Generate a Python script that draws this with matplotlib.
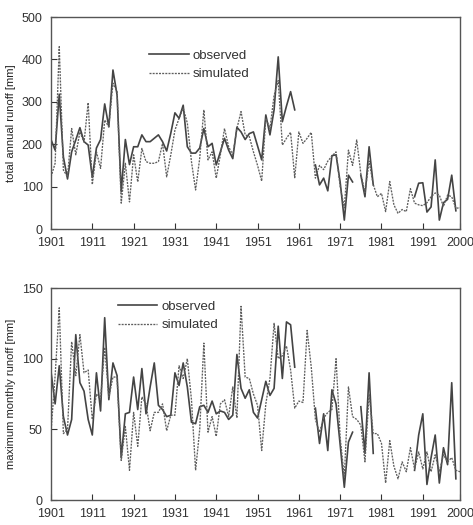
import numpy as np
import matplotlib
matplotlib.use("Agg")
import matplotlib.pyplot as plt

plt.rcParams['font.family'] = ['Liberation Sans', 'DejaVu Sans']

years = list(range(1901, 2001))
nan = np.nan

# total annual runoff [mm]
annual_obs = [211, 186, 318, 170, 118, 182, 210, 239, 206, 198,
              122, 191, 211, 295, 241, 375, 316, 88, 211, 152,
              194, 194, 222, 206, 206, 214, 222, 206, 184, 226,
              274, 261, 292, 194, 179, 179, 191, 237, 194, 202,
              151, 182, 214, 186, 166, 240, 229, 211, 225, 229,
              196, 163, 269, 222, 281, 406, 253, 290, 324, 281,
              nan, nan, nan, nan, 151, 104, 120, 90, 173, 175,
              110, 21, 127, 111, nan, 127, 76, 194, 104, nan,
              nan, nan, nan, nan, nan, nan, nan, nan, 76, 108,
              109, 40, 52, 163, 21, 62, 70, 127, 43, nan]
annual_sim = [123, 155, 430, 139, 123, 237, 175, 229, 205, 298,
              105, 182, 143, 257, 241, 344, 324, 61, 155, 64,
              175, 111, 190, 159, 155, 155, 159, 202, 123, 175,
              233, 261, 285, 250, 159, 92, 167, 281, 163, 182,
              120, 175, 237, 194, 175, 237, 277, 222, 218, 182,
              150, 113, 261, 237, 315, 350, 198, 214, 228, 121,
              229, 202, 214, 228, 120, 150, 140, 160, 172, 182,
              100, 50, 186, 150, 210, 130, 86, 160, 105, 76,
              84, 41, 112, 57, 37, 46, 41, 95, 61, 57,
              55, 62, 76, 85, 80, 53, 80, 76, 49, 50]

# maximum monthly runoff [mm]
monthly_obs = [91, 68, 95, 59, 46, 57, 117, 83, 77, 57,
               46, 90, 63, 129, 71, 97, 88, 30, 61, 62,
               87, 64, 93, 61, 80, 97, 67, 64, 59, 60,
               90, 81, 97, 80, 55, 54, 66, 67, 62, 70,
               61, 63, 62, 57, 60, 103, 79, 72, 78, 62,
               58, 71, 84, 74, 79, 123, 86, 126, 124, 94,
               nan, nan, nan, nan, 65, 40, 61, 35, 78, 68,
               39, 9, 41, 48, nan, 66, 33, 90, 33, nan,
               nan, nan, nan, nan, nan, nan, nan, nan, 21, 46,
               61, 11, 30, 46, 12, 37, 25, 83, 15, nan]
monthly_sim = [48, 88, 136, 47, 50, 112, 88, 117, 90, 92,
               57, 75, 71, 108, 73, 87, 87, 28, 52, 21,
               62, 38, 73, 68, 49, 62, 62, 68, 49, 60,
               60, 95, 86, 100, 71, 21, 50, 111, 48, 59,
               45, 68, 71, 59, 80, 58, 137, 87, 86, 75,
               67, 35, 68, 86, 125, 100, 102, 109, 92, 65,
               70, 69, 120, 94, 57, 48, 58, 62, 64, 100,
               44, 16, 80, 59, 57, 53, 27, 75, 47, 47,
               40, 12, 42, 24, 15, 27, 20, 37, 22, 34,
               22, 34, 20, 32, 20, 32, 27, 30, 21, 20]

tick_pos = [1901, 1911, 1921, 1931, 1941, 1951, 1961, 1971, 1981, 1991, 2000]
tick_lab = ["1901", "1911", "1921", "1931", "1941", "1951", "1961", "1971", "1981", "1991", "2000"]

fig = plt.figure(figsize=(4.73, 5.25), dpi=100)
ax1 = fig.add_axes([0.1078, 0.5638, 0.8647, 0.4038])
ax2 = fig.add_axes([0.1078, 0.0476, 0.8647, 0.4038])

obs_kw = dict(color='#444444', lw=1.2, linestyle='-')
sim_kw = dict(color='#5e5e5e', lw=0.95, linestyle=(0, (1.5, 0.9)))

panels = [
    (ax1, annual_obs, annual_sim, 'total annual runoff [mm]', (0, 500), [0, 100, 200, 300, 400, 500], (0.24, 0.845)),
    (ax2, monthly_obs, monthly_sim, 'maximum monthly runoff [mm]', (0, 150), [0, 50, 100, 150], (0.163, 0.94)),
]
for ax, obs, sim, ylab, ylim, yt, legpos in panels:
    ax.plot(years, obs, label='observed', **obs_kw)
    ax.plot(years, sim, label='simulated', **sim_kw)
    ax.set_xlim(1901, 2000)
    ax.set_ylim(*ylim)
    ax.set_yticks(yt)
    ax.set_xticks(tick_pos)
    ax.set_xticklabels(tick_lab)
    ax.tick_params(direction='in', length=4, width=0.8, colors='#333333', labelsize=9, pad=6)
    ax.tick_params(axis='x', top=False)
    for s in ax.spines.values():
        s.set_color('#555555')
        s.set_linewidth(1.0)
    ax.set_ylabel(ylab, fontsize=8, color='#222222', labelpad=4)
    leg = ax.legend(loc='upper left', bbox_to_anchor=legpos, frameon=False,
                    fontsize=9.5, handlelength=3.0, handletextpad=0.3,
                    labelspacing=0.45, borderpad=0, borderaxespad=0)
    for t in leg.get_texts():
        t.set_color('#333333')

fig.savefig('out.png', dpi=100)
